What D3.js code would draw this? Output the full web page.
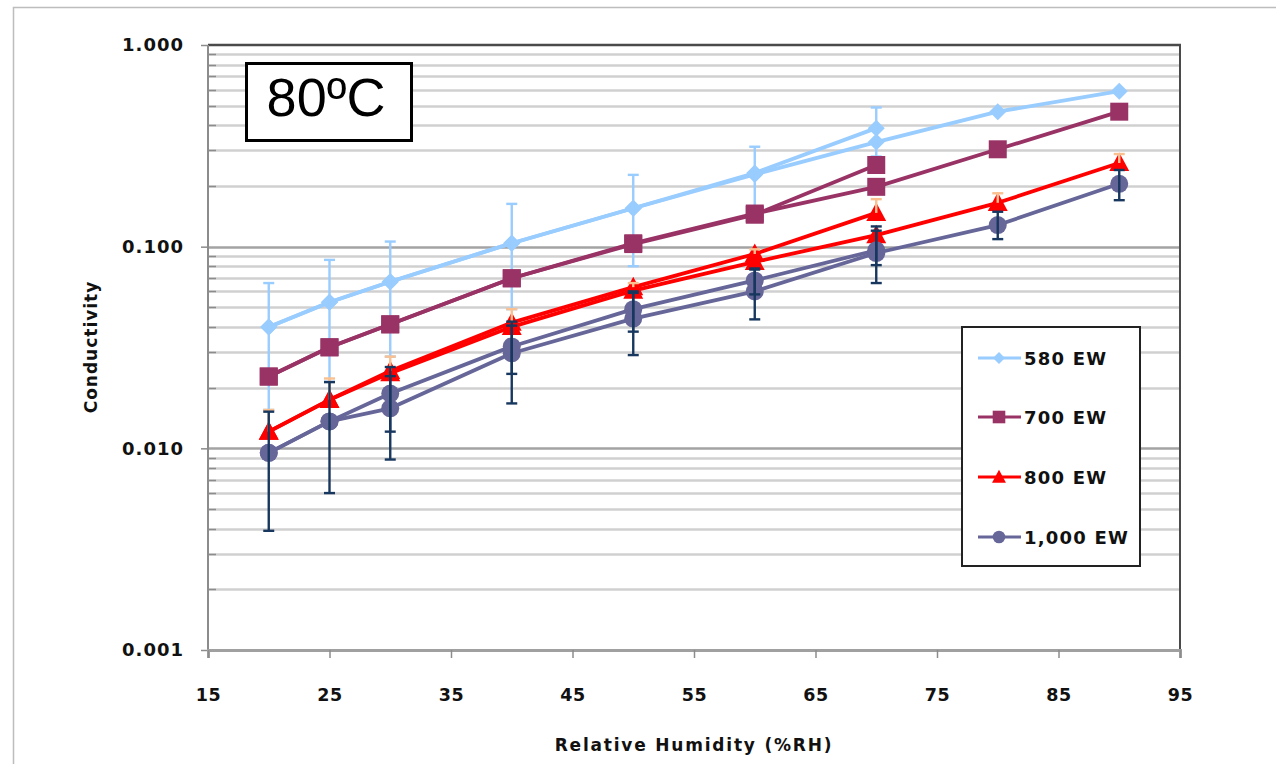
<!DOCTYPE html>
<html>
<head>
<meta charset="utf-8">
<script src="https://cdn.jsdelivr.net/npm/d3@7"></script>
<style>
  html, body { margin: 0; padding: 0; background: #ffffff; }
  svg { display: block; }
  text { font-family: "DejaVu Sans", Verdana, sans-serif; }
</style>
</head>
<body>
<svg id="chart" width="1276" height="764"></svg>
<script>
// Relative humidity set points (%RH)
const rh = [20, 25, 30, 40, 50, 60, 70, 80, 90];

// Axis ticks
const xTicks = [15, 25, 35, 45, 55, 65, 75, 85, 95];
const yTicks = [0.001, 0.01, 0.1, 1];

const seriesNames = ["580 EW", "700 EW", "800 EW", "1,000 EW"];

// Conductivity, two runs per membrane (second run stops at 70 %RH)
const ew580RunA = [0.040, 0.053, 0.067, 0.104, 0.155, 0.228, 0.330, 0.467, 0.590];
const ew580RunB = [0.040, 0.053, 0.067, 0.104, 0.155, 0.232, 0.387, null, null];
const ew700RunA = [0.0227, 0.0317, 0.0412, 0.0697, 0.104, 0.146, 0.198, 0.304, 0.467];
const ew700RunB = [0.0227, 0.0317, 0.0412, 0.0697, 0.103, 0.144, 0.254, null, null];
const ew800RunA = [0.0121, 0.0174, 0.0236, 0.040, 0.0605, 0.084, 0.114, 0.165, 0.260];
const ew800RunB = [0.0121, 0.0174, 0.0242, 0.042, 0.063, 0.092, 0.147, null, null];
const ew1000RunA = [0.0095, 0.0136, 0.0158, 0.0296, 0.044, 0.060, 0.093, 0.128, 0.205];
const ew1000RunB = [0.0095, 0.0136, 0.0187, 0.032, 0.049, 0.068, 0.096, null, null];

// Error bar limits (null = no bar)
const ew580ErrLoB = [0.0155, 0.0214, 0.0285, 0.049, 0.080, 0.147, 0.280, 0.349, 0.510];
const ew580ErrHiB = [0.066, 0.086, 0.106, 0.163, 0.227, 0.313, 0.490, 0.587, 0.670];
const ew800ErrHiA = [null, null, null, null, null, null, null, 0.184, 0.288];
const ew800ErrHiB = [0.0155, 0.0222, 0.0285, 0.049, 0.066, 0.097, 0.172, null, null];
const ew1000ErrLoA = [0.0039, 0.0060, 0.0088, 0.0167, 0.029, 0.0436, 0.066, 0.109, 0.170];
const ew1000ErrHiA = [0.0152, 0.0213, 0.0228, 0.0425, 0.059, 0.077, 0.120, 0.149, 0.240];
const ew1000ErrLoB = [null, null, 0.0121, 0.0234, 0.0379, 0.058, 0.081, null, null];
const ew1000ErrHiB = [null, null, 0.0253, 0.0406, 0.060, 0.078, 0.126, null, null];

const svg = d3.select("#chart");
const W = 1276, H = 764;
const plot = { left: 208, right: 1180, top: 45, bottom: 650 };

const x = d3.scaleLinear().domain([15, 95]).range([plot.left, plot.right]);
const y = d3.scaleLog().domain([0.001, 1]).range([plot.bottom, plot.top]);

// Chart area and its frame
svg.append("rect").attr("width", W).attr("height", H).attr("fill", "#fff");
svg.append("rect").attr("x", 13.5).attr("y", 7.5).attr("width", W + 20).attr("height", H + 20)
  .attr("fill", "none").attr("stroke", "#bdbdbd").attr("stroke-width", 1.5);

// Horizontal gridlines (log minor + decades)
const gridVals = y.ticks();
const majorSet = new Set(yTicks.map(v => v.toPrecision(3)));
svg.append("g").selectAll("line").data(gridVals.filter(v => v < 0.999 && v > 0.0011)).join("line")
  .attr("x1", plot.left).attr("x2", plot.right)
  .attr("y1", d => Math.round(y(d)) + 0.5).attr("y2", d => Math.round(y(d)) + 0.5)
  .attr("stroke", d => majorSet.has(d.toPrecision(3)) ? "#a3a3a3" : "#d0d0d0")
  .attr("stroke-width", 2.5);

// Plot frame top and right
svg.append("line").attr("x1", plot.left).attr("x2", plot.right + 1)
  .attr("y1", y(1)).attr("y2", y(1)).attr("stroke", "#4a4a4a").attr("stroke-width", 2.4);
svg.append("line").attr("x1", plot.right).attr("x2", plot.right)
  .attr("y1", plot.top).attr("y2", plot.bottom).attr("stroke", "#4a4a4a").attr("stroke-width", 2);

// Y axis: labels, major ticks outside, minor ticks inside
const yAxisG = svg.append("g").attr("transform", `translate(${plot.left},0)`);
yAxisG.call(d3.axisLeft(y).tickValues(yTicks).tickFormat(d3.format(".3f")).tickSize(7).tickPadding(17))
  .call(g => g.select(".domain").remove());
yAxisG.selectAll(".tick line").attr("stroke", "#8c8c8c").attr("stroke-width", 1.5);
yAxisG.selectAll(".tick text").attr("font-size", 18).attr("font-weight", "bold")
  .attr("fill", "#111").attr("letter-spacing", 1);
yAxisG.selectAll("line.minor").data(gridVals.filter(v => !majorSet.has(v.toPrecision(3)))).join("line")
  .attr("class", "minor").attr("x1", 0).attr("x2", 8)
  .attr("y1", d => Math.round(y(d)) + 0.5).attr("y2", d => Math.round(y(d)) + 0.5)
  .attr("stroke", "#8c8c8c").attr("stroke-width", 1.5);
svg.append("line").attr("x1", plot.left).attr("x2", plot.left)
  .attr("y1", plot.top).attr("y2", plot.bottom + 1).attr("stroke", "#8c8c8c").attr("stroke-width", 2);

// X axis
const xAxisG = svg.append("g").attr("transform", `translate(0,${plot.bottom})`);
xAxisG.call(d3.axisBottom(x).tickValues(xTicks).tickFormat(d3.format("d")).tickSize(8).tickPadding(31));
xAxisG.select(".domain").attr("stroke", "#a0a0a0").attr("stroke-width", 3);
xAxisG.selectAll(".tick line").attr("stroke", "#8c8c8c").attr("stroke-width", 1.5);
xAxisG.selectAll(".tick text").attr("font-size", 17.5).attr("font-weight", "bold")
  .attr("fill", "#111").attr("letter-spacing", 0.5);

// Axis titles
svg.append("text").attr("x", 694).attr("y", 751).attr("text-anchor", "middle")
  .attr("font-size", 17).attr("font-weight", "bold").attr("fill", "#111")
  .attr("letter-spacing", 1.8).text("Relative Humidity (%RH)");
svg.append("text").attr("transform", "translate(97,347) rotate(-90)").attr("text-anchor", "middle")
  .attr("font-size", 17).attr("font-weight", "bold").attr("fill", "#111")
  .attr("letter-spacing", 1).text("Conductivity");

// Marker shapes
function markerPath(shape, s) {
  switch (shape) {
    case "diamond": return `M0,${-s}L${s},0L0,${s}L${-s},0Z`;
    case "square": return `M${-s},${-s}H${s}V${s}H${-s}Z`;
    case "triangle": return `M0,${-s * 1.1}L${s * 1.05},${s * 0.85}L${-s * 1.05},${s * 0.85}Z`;
    default: return d3.arc()({ innerRadius: 0, outerRadius: s, startAngle: 0, endAngle: 2 * Math.PI });
  }
}

const series = [
  { name: seriesNames[0], color: "#99ccff", errColor: "#99ccff", shape: "diamond", size: 8.5,
    runs: [ { v: ew580RunA }, { v: ew580RunB, lo: ew580ErrLoB, hi: ew580ErrHiB } ] },
  { name: seriesNames[1], color: "#993366", shape: "square", size: 9,
    runs: [ { v: ew700RunA }, { v: ew700RunB } ] },
  { name: seriesNames[2], color: "#ff0000", errColor: "#fac090", shape: "triangle", size: 9.5,
    runs: [ { v: ew800RunA, hi: ew800ErrHiA }, { v: ew800RunB, hi: ew800ErrHiB } ] },
  { name: seriesNames[3], color: "#666699", errColor: "#17375e", shape: "circle", size: 9,
    runs: [ { v: ew1000RunA, lo: ew1000ErrLoA, hi: ew1000ErrHiA }, { v: ew1000RunB, lo: ew1000ErrLoB, hi: ew1000ErrHiB } ] }
];

const line = d3.line().defined(d => d.v != null).x(d => x(d.rh)).y(d => y(d.v));

series.forEach(s => {
  const g = svg.append("g");
  s.runs.forEach(run => {
    const pts = rh.map((r, i) => ({ rh: r, v: run.v[i] }));
    g.append("path").datum(pts).attr("d", line).attr("fill", "none")
      .attr("stroke", s.color).attr("stroke-width", 3.8).attr("stroke-linejoin", "round");
  });
  s.runs.forEach(run => {
    const pts = rh.map((r, i) => ({ rh: r, v: run.v[i] })).filter(d => d.v != null);
    g.selectAll(null).data(pts).join("path")
      .attr("transform", d => `translate(${x(d.rh)},${y(d.v)})`)
      .attr("d", markerPath(s.shape, s.size)).attr("fill", s.color);
  });
  // Error bars
  s.runs.forEach(run => {
    if (!run.hi && !run.lo) return;
    const bars = rh.map((r, i) => ({
      rh: r, v: run.v[i],
      hi: run.hi ? run.hi[i] : null, lo: run.lo ? run.lo[i] : null
    })).filter(d => d.v != null && (d.hi != null || d.lo != null));
    const eg = g.append("g").attr("stroke", s.errColor).attr("stroke-width", 2.4);
    bars.forEach(d => {
      const top = d.hi != null ? d.hi : d.v;
      const bot = d.lo != null ? d.lo : d.v;
      const cx = x(d.rh);
      eg.append("line").attr("x1", cx).attr("x2", cx).attr("y1", y(top)).attr("y2", y(bot));
      if (d.hi != null) eg.append("line").attr("x1", cx - 5.5).attr("x2", cx + 5.5).attr("y1", y(d.hi)).attr("y2", y(d.hi));
      if (d.lo != null) eg.append("line").attr("x1", cx - 5.5).attr("x2", cx + 5.5).attr("y1", y(d.lo)).attr("y2", y(d.lo));
    });
  });
});

// Temperature label box
svg.append("rect").attr("x", 246.5).attr("y", 63.5).attr("width", 165).attr("height", 77)
  .attr("fill", "#fff").attr("stroke", "#000").attr("stroke-width", 3);
svg.append("text").attr("x", 326).attr("y", 116).attr("text-anchor", "middle")
  .attr("font-size", 54).attr("fill", "#000")
  .style("font-family", "'Liberation Sans', Arial, sans-serif").text("80ºC");

// Legend
const legend = svg.append("g");
legend.append("rect").attr("x", 962).attr("y", 327).attr("width", 178).attr("height", 239)
  .attr("fill", "#fff").attr("stroke", "#222").attr("stroke-width", 2);
const legendY = [358, 417, 477, 537];
series.forEach((s, i) => {
  const row = legend.append("g").attr("transform", `translate(0,${legendY[i]})`);
  row.append("line").attr("x1", 978).attr("x2", 1021).attr("stroke", s.color).attr("stroke-width", 3);
  row.append("path").attr("transform", "translate(999,0)").attr("d", markerPath(s.shape, s.size * 0.7))
    .attr("fill", s.color);
  row.append("text").attr("x", 1024).attr("y", 7).attr("font-size", 18).attr("font-weight", "bold")
    .attr("fill", "#111").attr("letter-spacing", 1.2).text(s.name);
});
</script>
</body>
</html>
